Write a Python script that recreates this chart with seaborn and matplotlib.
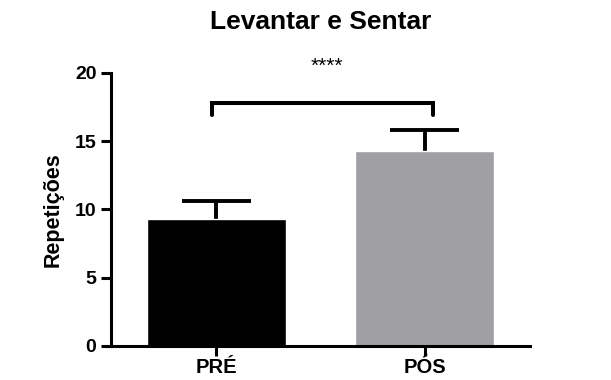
import numpy as np
import pandas as pd
import seaborn as sns
import matplotlib
matplotlib.use("Agg")
import matplotlib.pyplot as plt

# values
groups = ["PRÉ", "PÓS"]
means = [9.3, 14.3]
errs = [1.3, 1.5]
bar_colors = ["#000000", "#a09fa4"]
yticks = [0, 5, 10, 15, 20]
bracket_y = 17.8
bracket_leg = 16.9
sig_label = "****"

sns.set_style("ticks")
plt.rcParams["font.family"] = ["Liberation Sans", "DejaVu Sans"]
plt.rcParams["font.weight"] = "bold"
plt.rcParams["text.color"] = "black"
plt.rcParams["axes.labelcolor"] = "black"
plt.rcParams["xtick.color"] = "black"
plt.rcParams["ytick.color"] = "black"
plt.rcParams["axes.edgecolor"] = "black"

df = pd.DataFrame({"grupo": groups, "rep": means})

fig = plt.figure(figsize=(6.11, 3.80), dpi=100)
ax = fig.add_axes([0.1817, 0.0895, 0.6857, 0.7185])

sns.barplot(data=df, x="grupo", y="rep", hue="grupo", palette=bar_colors,
            width=0.668, errorbar=None, legend=False, ax=ax, saturation=1)

# upper-only error bars (mean + SD)
xs = np.arange(len(groups))
tops = np.array(means) + np.array(errs)
ax.vlines(xs, means, tops, color="black", lw=2.8, zorder=1)
ax.hlines(tops, xs - 0.165, xs + 0.165, color="black", lw=2.8, zorder=1)
for p in ax.patches:
    p.set_zorder(2)

ax.set_xlim(-0.507, 1.507)
ax.set_ylim(0, 20)
ax.set_yticks(yticks)
ax.set_xlabel("")
ax.set_ylabel("Repetições", fontsize=15.5, fontweight="bold", labelpad=8)
ax.set_title("Levantar e Sentar", fontsize=19, fontweight="bold", pad=32)

for s in ["top", "right"]:
    ax.spines[s].set_visible(False)
for s in ["left", "bottom"]:
    ax.spines[s].set_linewidth(2.2)
ax.tick_params(width=2.2, length=7, labelsize=14)
ax.tick_params(axis="x", labelsize=14.5, pad=1.5)
for lbl in ax.get_xticklabels() + ax.get_yticklabels():
    lbl.set_fontweight("bold")

# significance bracket
ax.plot([-0.02, -0.02, 1.04, 1.04], [bracket_leg, bracket_y, bracket_y, bracket_leg],
        color="black", lw=2.9, clip_on=False, solid_joinstyle="miter")
ax.text(0.53, 19.8, sig_label, ha="center", va="bottom", fontsize=15,
        fontweight="normal", clip_on=False)

fig.savefig("out.png", dpi=100)
